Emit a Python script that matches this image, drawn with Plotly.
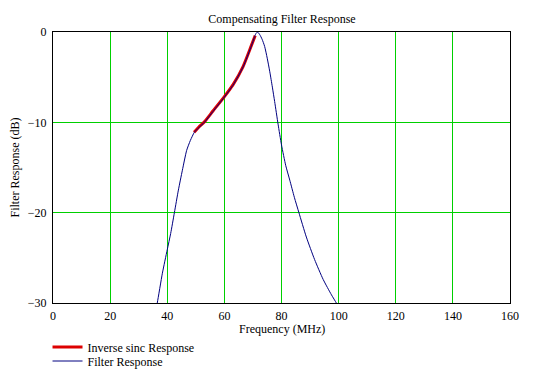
import plotly.graph_objects as go

# Filter response (blue)
filter_freq = [35.8, 36.5, 38.3, 40.0, 41.2, 42.5, 43.9, 45.3, 46.8, 48.1, 49.5, 51.0,
               53.0, 56.0, 60.0, 63.0, 66.5, 69.5, 70.5, 71.0, 71.6, 72.4, 73.2, 74.1,
               75.0, 75.9, 76.8, 77.6, 78.8, 80.0, 81.5, 82.9, 84.5, 86.1, 88.7, 91.6,
               94.6, 97.5, 99.2, 100.0]
filter_db = [-31.0, -30.0, -26.7, -24.1, -22.3, -20.0, -17.5, -15.3, -13.1, -12.0, -11.1, -10.6,
             -10.0, -8.8, -7.2, -5.9, -3.9, -1.5, -0.6, -0.2, 0.0, -0.3, -0.8, -1.6,
             -2.9, -4.4, -6.1, -7.7, -10.2, -12.5, -14.8, -16.4, -18.3, -20.0, -22.7, -25.2,
             -27.4, -29.1, -30.0, -30.5]

# Inverse sinc response (red), over the passband only
sinc_freq = [49.4, 51.0, 53.0, 56.0, 60.0, 63.0, 66.5, 69.5, 70.8]
sinc_db = [-11.1, -10.55, -9.95, -8.75, -7.15, -5.85, -3.85, -1.45, -0.4]

x_ticks = [0, 20, 40, 60, 80, 100, 120, 140, 160]
y_ticks = [0, -10, -20, -30]

FONT = "Liberation Serif"
OFF = 8  # page body margin

fig = go.Figure()
fig.add_trace(go.Scatter(x=sinc_freq, y=sinc_db, mode="lines",
                         name="Inverse sinc Response", legend="legend",
                         line=dict(color="#dd0000", width=3, shape="spline", smoothing=0.6)))
fig.add_trace(go.Scatter(x=filter_freq, y=filter_db, mode="lines",
                         name="Filter Response", legend="legend2",
                         line=dict(color="#000080", width=1, shape="spline", smoothing=0.6)))

leg_common = dict(x=-0.012, xanchor="left", yanchor="middle",
                  bgcolor="rgba(0,0,0,0)", borderwidth=0,
                  font=dict(family=FONT, size=12, color="black"))

fig.update_layout(
    width=555, height=380,
    margin=dict(l=53 - OFF, r=45 + OFF, t=32 - OFF, b=77 + OFF, autoexpand=False),
    paper_bgcolor="white", plot_bgcolor="white",
    font=dict(family=FONT, size=12, color="black"),
    title=dict(text="Compensating Filter Response", x=(282 - OFF) / 555, xanchor="center",
               y=1 - (19 - OFF) / 380, yanchor="middle", yref="container",
               font=dict(family=FONT, size=12, color="black")),
    showlegend=True,
    legend=dict(y=-(347 - 303) / 271, **leg_common),
    legend2=dict(y=-(361 - 303) / 271, **leg_common),
    annotations=[
        dict(text="Frequency (MHz)", xref="paper", yref="paper", x=(282 - 53) / 457, y=0,
             yshift=-(329 - 303), xanchor="center", yanchor="middle", showarrow=False,
             font=dict(family=FONT, size=12, color="black")),
        dict(text="Filter Response (dB)", xref="paper", yref="paper", x=0, y=0.5,
             xshift=-(53 - 14), xanchor="center", yanchor="middle", textangle=-90,
             showarrow=False, font=dict(family=FONT, size=12, color="black")),
    ],
)
fig.update_xaxes(range=[0, 160], tickvals=x_ticks, showgrid=True,
                 gridcolor="#00d000", gridwidth=1, zeroline=False,
                 showline=True, linecolor="black", linewidth=1, mirror=True,
                 ticks="outside", ticklen=2, tickcolor="rgba(0,0,0,0)", automargin=False,
                 tickfont=dict(family=FONT, size=12, color="black"))
fig.update_yaxes(range=[-30, 0], tickvals=y_ticks, showgrid=True,
                 gridcolor="#00d000", gridwidth=1, zeroline=False,
                 showline=True, linecolor="black", linewidth=1, mirror=True,
                 ticks="outside", ticklen=3, tickcolor="rgba(0,0,0,0)", automargin=False,
                 tickfont=dict(family=FONT, size=12, color="black"))

fig.write_html("out.html")
